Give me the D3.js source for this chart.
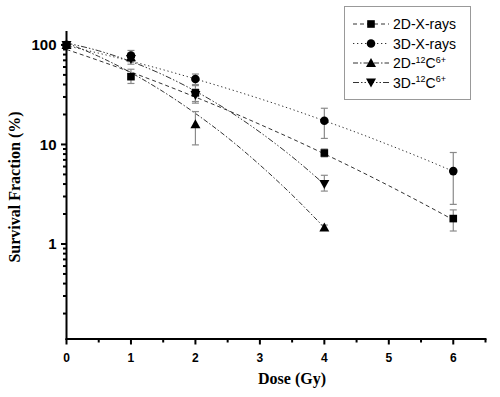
<!DOCTYPE html>
<html><head><meta charset="utf-8">
<script src="https://cdn.jsdelivr.net/npm/d3@7"></script>
<style>body{margin:0;background:#fff}svg{display:block}</style>
</head><body>
<script>
// ---- data ----
const seriesNames = ["2D-X-rays", "3D-X-rays", "2D-12C6+", "3D-12C6+"];
const doses2DX = [0, 1, 2, 4, 6];
const sf2DX = [100, 48, 33, 8.2, 1.8];
const lo2DX = [100, 41, 27, 7.5, 1.35];
const hi2DX = [100, 57, 39, 9.0, 2.2];
const doses3DX = [0, 1, 2, 4, 6];
const sf3DX = [100, 78, 45.5, 17.3, 5.4];
const lo3DX = [100, 68, 40, 11.5, 2.5];
const hi3DX = [100, 88, 51, 23.1, 8.3];
const doses2DC = [0, 1, 2, 4];
const sf2DC = [100, 75, 16, 1.46];
const lo2DC = [100, 68, 9.9, 1.38];
const hi2DC = [100, 82, 21.4, 1.55];
const doses3DC = [0, 1, 2, 4];
const sf3DC = [100, 72, 31.4, 4.0];
const lo3DC = [100, 64, 26, 3.4];
const hi3DC = [100, 80, 36, 4.9];
// fitted curves
const fitDosesX = [0, 0.5, 1, 1.5, 2, 2.5, 3, 3.5, 4, 4.5, 5, 5.5, 6];
const fit2DX = [90, 69.7, 53.3, 40.2, 29.9, 22.0, 15.9, 11.4, 8.04, 5.6, 3.85, 2.61, 1.75];
const fit3DX = [98.2, 82.6, 68.6, 56.3, 45.5, 36.4, 28.8, 22.5, 17.3, 13.2, 9.9, 7.35, 5.37];
const fitDosesC = [0, 0.5, 1, 1.5, 2, 2.5, 3, 3.5, 4];
const fit2DC = [104.6, 76.6, 52.6, 33.9, 20.5, 11.7, 6.22, 3.11, 1.46];
const fit3DC = [104.6, 87.3, 68.2, 50.0, 34.3, 22.1, 13.3, 7.52, 3.98];
const xTicks = [0, 1, 2, 3, 4, 5, 6];
const yTickLabels = [1, 10, 100];

const W = 500, H = 397;
const svg = d3.select("body").append("svg").attr("width", W).attr("height", H);
const x = d3.scaleLinear().domain([0, 6.5]).range([66.5, 485.5]);
const y = d3.scaleLog().domain([0.111, 138]).range([339, 31]);

const series = [
  {name: seriesNames[0], d: doses2DX, v: sf2DX, lo: lo2DX, hi: hi2DX, fd: fitDosesX, fv: fit2DX, dash: "4,3", sym: "square"},
  {name: seriesNames[1], d: doses3DX, v: sf3DX, lo: lo3DX, hi: hi3DX, fd: fitDosesX, fv: fit3DX, dash: "1.3,2.7", sym: "circle"},
  {name: seriesNames[2], d: doses2DC, v: sf2DC, lo: lo2DC, hi: hi2DC, fd: fitDosesC, fv: fit2DC, dash: "5,2,1.5,2", sym: "up"},
  {name: seriesNames[3], d: doses3DC, v: sf3DC, lo: lo3DC, hi: hi3DC, fd: fitDosesC, fv: fit3DC, dash: "6,2,1.5,2,1.5,2", sym: "down"}
];

function marker(g, sym, cx, cy) {
  if (sym === "square") g.append("rect").attr("x", cx - 3.8).attr("y", cy - 3.8).attr("width", 7.6).attr("height", 7.6).attr("fill", "#000");
  else if (sym === "circle") g.append("circle").attr("cx", cx).attr("cy", cy).attr("r", 4.3).attr("fill", "#000");
  else if (sym === "up") g.append("path").attr("d", `M${cx},${cy-5}L${cx+5},${cy+4}L${cx-5},${cy+4}Z`).attr("fill", "#000");
  else g.append("path").attr("d", `M${cx},${cy+5}L${cx+5},${cy-4}L${cx-5},${cy-4}Z`).attr("fill", "#000");
}

const line = d3.line().x(d => x(d[0])).y(d => y(d[1])).curve(d3.curveMonotoneX);
// curves
series.forEach(s => {
  svg.append("path").attr("d", line(s.fd.map((d, i) => [d, s.fv[i]])))
    .attr("fill", "none").attr("stroke", "#333").attr("stroke-width", 1).attr("stroke-dasharray", s.dash);
});
// error bars
series.forEach(s => {
  s.d.forEach((d, i) => {
    if (s.lo[i] === s.hi[i]) return;
    const g = svg.append("g").attr("stroke", "#8a8a8a").attr("stroke-width", 1.2);
    g.append("line").attr("x1", x(d)).attr("x2", x(d)).attr("y1", y(s.lo[i])).attr("y2", y(s.hi[i]));
    g.append("line").attr("x1", x(d) - 3.5).attr("x2", x(d) + 3.5).attr("y1", y(s.lo[i])).attr("y2", y(s.lo[i]));
    g.append("line").attr("x1", x(d) - 3.5).attr("x2", x(d) + 3.5).attr("y1", y(s.hi[i])).attr("y2", y(s.hi[i]));
  });
});
// markers
series.forEach(s => {
  s.d.forEach((d, i) => marker(svg, s.sym, x(d), y(s.v[i])));
});

// axes
const axisColor = "#000";
const xAxis = svg.append("g").attr("transform", "translate(0,339)");
xAxis.append("line").attr("x1", 66.5 - 1).attr("x2", 486.5).attr("stroke", axisColor).attr("stroke-width", 2);
d3.range(0, 6.51, 0.5).forEach(t => {
  const major = Number.isInteger(t);
  xAxis.append("line").attr("x1", x(t)).attr("x2", x(t)).attr("y1", 0).attr("y2", major ? 5.5 : 3.5)
    .attr("stroke", axisColor).attr("stroke-width", 2);
});
xTicks.forEach(t => {
  xAxis.append("text").attr("x", x(t)).attr("y", 23).attr("text-anchor", "middle")
    .attr("font-family", "Liberation Sans, Arial, sans-serif").attr("font-weight", "bold").attr("font-size", 12).text(t);
});

const yAxis = svg.append("g").attr("transform", "translate(66.5,0)");
yAxis.append("line").attr("y1", 31).attr("y2", 340).attr("stroke", axisColor).attr("stroke-width", 2);
const minorVals = [];
[0.1, 1, 10, 100].forEach(dec => { for (let k = 1; k <= 9; k++) minorVals.push(dec * k); });
minorVals.filter(v => v >= 0.111 && v <= 138).forEach(v => {
  const major = yTickLabels.some(t => Math.abs(t - v) < 1e-9);
  yAxis.append("line").attr("x1", 0).attr("x2", major ? -5.5 : -3.5).attr("y1", y(v)).attr("y2", y(v))
    .attr("stroke", axisColor).attr("stroke-width", 2);
});
yTickLabels.forEach(t => {
  yAxis.append("text").attr("x", -10).attr("y", y(t)).attr("dy", "0.36em").attr("text-anchor", "end")
    .attr("font-family", "Liberation Sans, Arial, sans-serif").attr("font-weight", "bold").attr("font-size", 15).text(t);
});

// axis titles
svg.append("text").attr("x", 292).attr("y", 384).attr("text-anchor", "middle")
  .attr("font-family", "Liberation Serif, Times New Roman, serif").attr("font-weight", "bold").attr("font-size", 16).text("Dose (Gy)");
svg.append("text").attr("transform", "translate(20,187) rotate(-90)").attr("text-anchor", "middle")
  .attr("font-family", "Liberation Serif, Times New Roman, serif").attr("font-weight", "bold").attr("font-size", 16).text("Survival Fraction (%)");

// legend
const lg = svg.append("g");
lg.append("rect").attr("x", 344.5).attr("y", 6.5).attr("width", 126).attr("height", 93)
  .attr("fill", "#fff").attr("stroke", "#999").attr("stroke-width", 1);
const rowY = [24, 43.5, 63, 82.5];
series.forEach((s, i) => {
  const yy = rowY[i];
  lg.append("line").attr("x1", 353).attr("x2", 389).attr("y1", yy).attr("y2", yy)
    .attr("stroke", "#333").attr("stroke-width", 1).attr("stroke-dasharray", s.dash);
  marker(lg, s.sym, 371, yy);
  const t = lg.append("text").attr("x", 393).attr("y", yy + 5)
    .attr("font-family", "Liberation Sans, Arial, sans-serif").attr("font-size", 14);
  if (i < 2) t.text(s.name);
  else {
    t.append("tspan").text(s.name.slice(0, 3));
    t.append("tspan").attr("font-size", 9).attr("dy", -5.5).text("12");
    t.append("tspan").attr("dy", 5.5).text("C");
    t.append("tspan").attr("font-size", 9).attr("dy", -5.5).text("6+");
  }
});
</script>
</body></html>
